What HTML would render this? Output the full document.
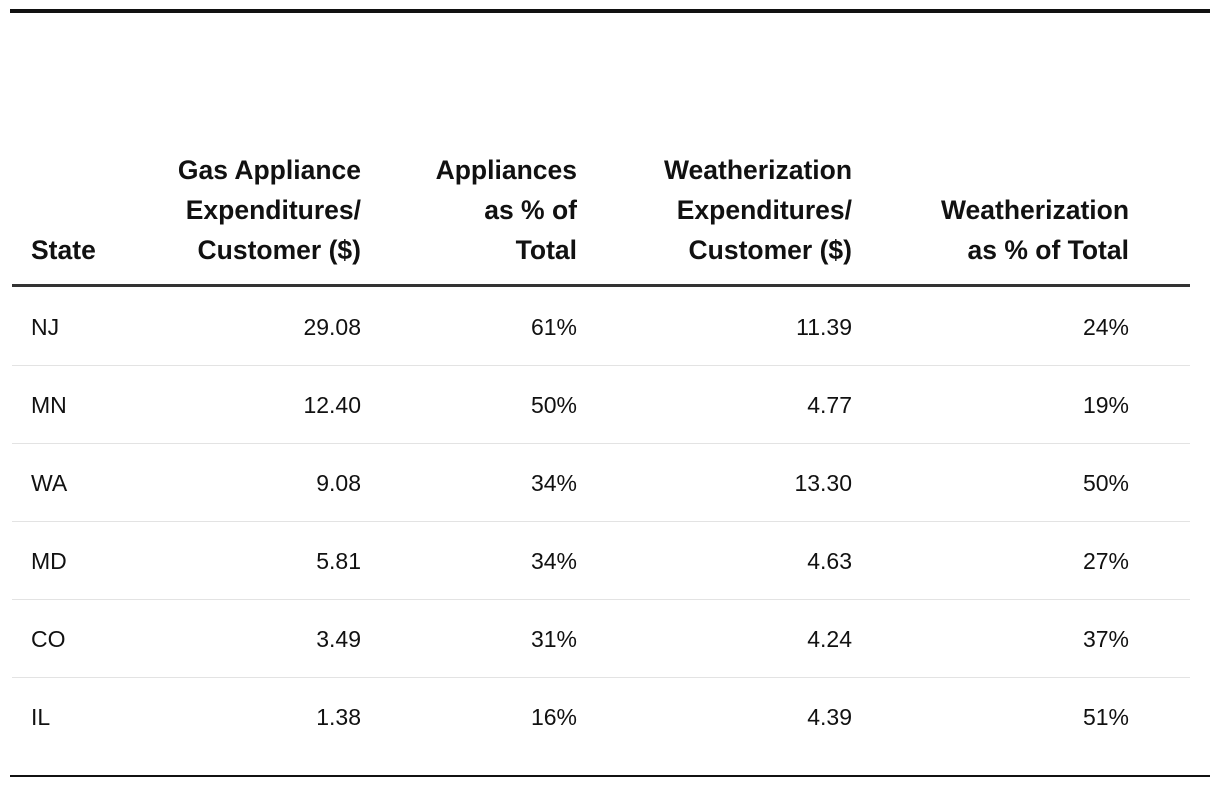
<!DOCTYPE html>
<html><head><meta charset="utf-8"><style>
body{margin:0;width:1220px;height:788px;background:#fff;font-family:"Liberation Sans",sans-serif;color:#111;position:relative;overflow:hidden}
.rule{position:absolute;background:#111}
.t{position:absolute;white-space:nowrap}
.h{font-weight:bold;font-size:26.5px;line-height:40px;letter-spacing:0px}
.c{font-size:23px;line-height:30px}
.r{text-align:right}
.line{position:absolute;left:12px;width:1178px;height:1px;background:#e3e3e3}
</style></head><body>
<div class="rule" style="left:10px;top:9px;width:1200px;height:4px"></div>
<div class="t h" style="left:31px;top:230px">State</div>
<div class="t h r" style="right:859px;top:150px">Gas Appliance<br>Expenditures/<br>Customer ($)</div>
<div class="t h r" style="right:643px;top:150px">Appliances<br>as % of<br>Total</div>
<div class="t h r" style="right:368px;top:150px">Weatherization<br>Expenditures/<br>Customer ($)</div>
<div class="t h r" style="right:91px;top:190px">Weatherization<br>as % of Total</div>
<div class="rule" style="left:12px;top:284px;width:1178px;height:3px;background:#333"></div>
<div id="rows"></div>
<div class="rule" style="left:10px;top:775px;width:1200px;height:2px"></div>
<script>
const states=["NJ","MN","WA","MD","CO","IL"];
const gas=["29.08","12.40","9.08","5.81","3.49","1.38"];
const appPct=["61%","50%","34%","34%","31%","16%"];
const weath=["11.39","4.77","13.30","4.63","4.24","4.39"];
const weathPct=["24%","19%","50%","27%","37%","51%"];
const rights=[859,643,368,91];
const cont=document.getElementById('rows');
states.forEach((s,i)=>{
  const cy=327+i*78;
  const row=document.createElement('div');
  
  
  cont.appendChild(row);
  const st=document.createElement('div');
  st.className='t c';
  st.style.left='31px';st.style.top=(cy-15)+'px';
  st.textContent=s;
  
  
  row.appendChild(st);
  [gas[i],appPct[i],weath[i],weathPct[i]].forEach((v,j)=>{
    const d=document.createElement('div');
    d.className='t c r';
    d.style.right=rights[j]+'px';d.style.top=(cy-15)+'px';
    d.textContent=v;
    
    
    row.appendChild(d);
  });
  if(i<states.length-1){
    const l=document.createElement('div');
    l.className='line';l.style.top=(cy+38)+'px';
    
    
    row.appendChild(l);
  }
});
</script>
</body></html>
